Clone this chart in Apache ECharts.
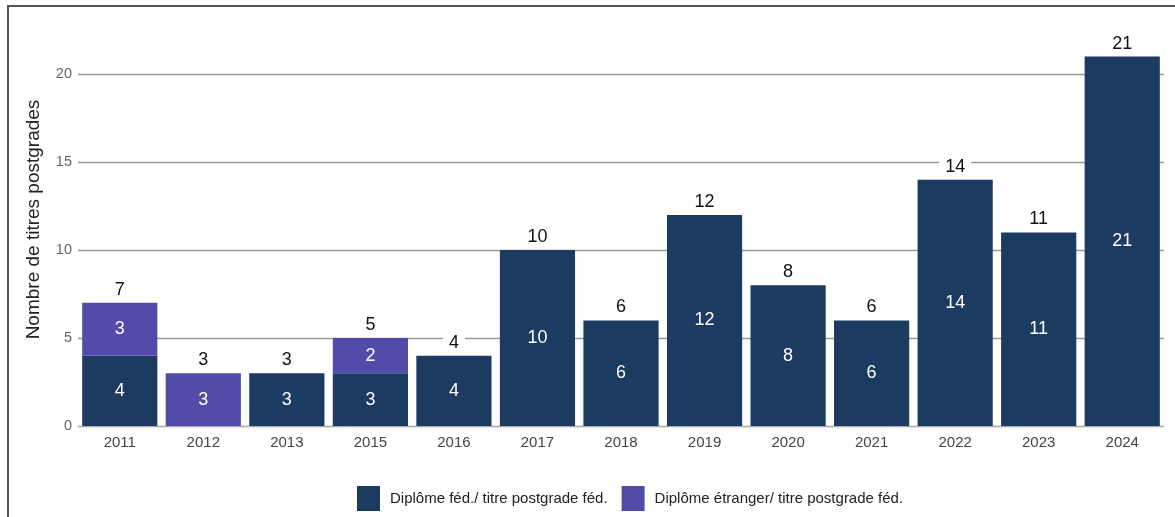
<!DOCTYPE html>
<html>
<head>
<meta charset="utf-8">
<script src="https://cdn.jsdelivr.net/npm/echarts@6/dist/echarts.min.js"></script>
<style>
html,body{margin:0;padding:0;background:#fff;}
#frame{position:absolute;left:7px;top:5px;width:1168px;height:512px;border-top:2px solid #555;border-left:2px solid #555;box-sizing:border-box;}
#chart{position:absolute;left:0;top:0;width:1175px;height:517px;}
</style>
</head>
<body>
<div id="frame"></div>
<div id="chart"></div>
<script>
const categories = ['2011','2012','2013','2015','2016','2017','2018','2019','2020','2021','2022','2023','2024'];
const federal = [4, null, 3, 3, 4, 10, 6, 12, 8, 6, 14, 11, 21];
const foreign = [3, 3, null, 2, null, null, null, null, null, null, null, null, null];
const seriesNames = ['Diplôme féd./ titre postgrade féd.', 'Diplôme étranger/ titre postgrade féd.'];
const yTicks = [0, 5, 10, 15, 20];

const totals = categories.map((c, i) => (federal[i] || 0) + (foreign[i] || 0));
const FONT = 'Liberation Sans, Arial, sans-serif';

const chart = echarts.init(document.getElementById('chart'));
chart.setOption({
  animation: false,
  grid: { left: 78, right: 11, top: 39, bottom: 91 },
  legend: {
    bottom: 6,
    left: 357,
    padding: 0,
    icon: 'rect',
    itemWidth: 23,
    itemHeight: 25,
    itemGap: 14,
    data: seriesNames,
    textStyle: { fontFamily: FONT, fontSize: 15, color: '#222', padding: [0, 0, 0, 5] }
  },
  xAxis: {
    type: 'category',
    data: categories,
    axisTick: { show: false },
    axisLine: { show: true, lineStyle: { color: '#aaa', width: 1 } },
    axisLabel: { color: '#444', fontSize: 15, margin: 9, fontFamily: FONT }
  },
  yAxis: {
    type: 'value',
    min: 0,
    max: 22,
    interval: 5,
    name: 'Nombre de titres postgrades',
    nameLocation: 'middle',
    nameGap: 35,
    nameTextStyle: { color: '#222', fontSize: 19, fontFamily: FONT, padding: [0, 0, 0, 26] },
    axisLabel: { color: '#666', fontSize: 14.5, showMaxLabel: false, margin: 6, fontFamily: FONT,
      formatter: v => yTicks.includes(v) ? String(v) : '' },
    splitLine: { show: true, showMaxLine: false, lineStyle: { color: '#999', width: 1.3 } },
    axisLine: { show: false },
    axisTick: { show: false }
  },
  series: [
    {
      name: seriesNames[0],
      type: 'bar',
      stack: 'total',
      barCategoryGap: '10%',
      data: federal,
      itemStyle: { color: '#1b3b61' },
      label: { show: true, position: 'inside', color: '#fff', fontSize: 18, fontFamily: FONT,
        formatter: p => p.value ? String(p.value) : '' }
    },
    {
      name: seriesNames[1],
      type: 'bar',
      stack: 'total',
      barCategoryGap: '10%',
      data: foreign,
      itemStyle: { color: '#534ba9' },
      label: { show: true, position: 'inside', color: '#fff', fontSize: 18, fontFamily: FONT,
        formatter: p => p.value ? String(p.value) : '' }
    },
    {
      name: 'total',
      type: 'bar',
      stack: 'total',
      barCategoryGap: '10%',
      data: totals.map(() => 0),
      itemStyle: { color: 'transparent' },
      label: { show: true, position: 'top', distance: 4, color: '#111', fontSize: 18,
        fontFamily: FONT,
        backgroundColor: '#fff', padding: [0, 6, 0, 6],
        formatter: p => String(totals[p.dataIndex]) }
    }
  ]
});
</script>
</body>
</html>
